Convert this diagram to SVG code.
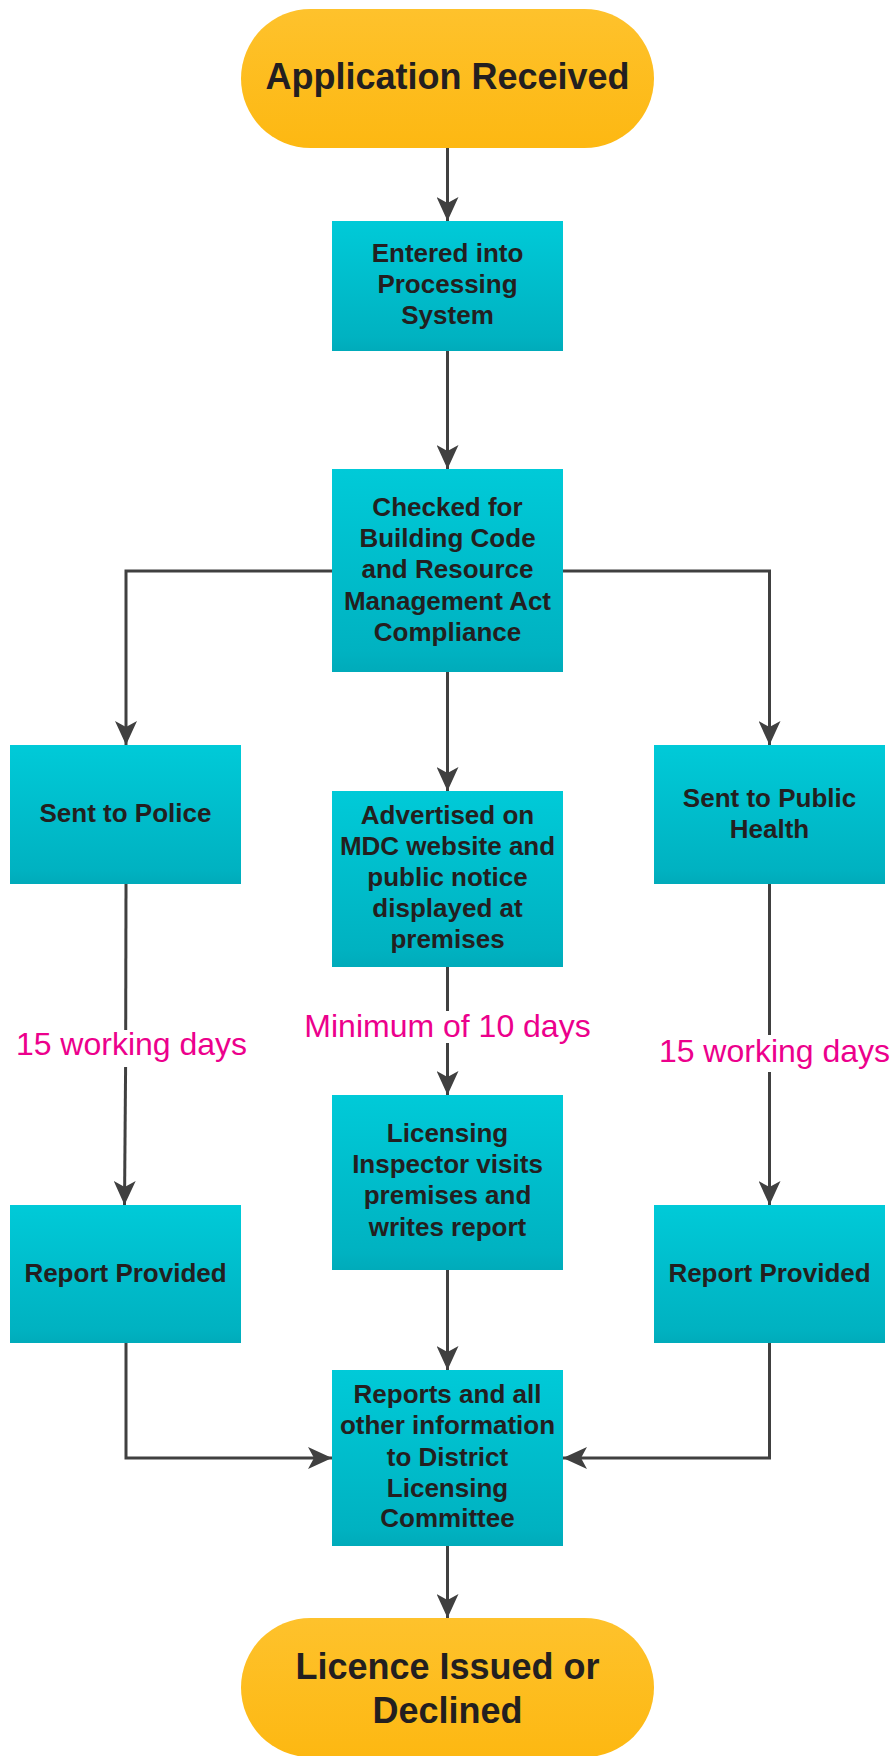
<svg xmlns="http://www.w3.org/2000/svg" width="895" height="1756" viewBox="0 0 895 1756">
  <defs>
    <linearGradient id="gTerm" x1="0" y1="0" x2="0" y2="1">
      <stop offset="0" stop-color="#FEC22C"/>
      <stop offset="1" stop-color="#FDB812"/>
    </linearGradient>
    <linearGradient id="gBox" x1="0" y1="0" x2="0" y2="1">
      <stop offset="0" stop-color="#00CAD8"/>
      <stop offset="0.9" stop-color="#00B2C1"/>
      <stop offset="1" stop-color="#00ABBA"/>
    </linearGradient>
    <marker id="arrow" markerUnits="userSpaceOnUse" markerWidth="24" markerHeight="22" refX="24" refY="11" orient="auto">
      <path d="M0,0 L24,11 L0,22 L6,11 Z" fill="#404040"/>
    </marker>
    <style>
      .term { fill: url(#gTerm); }
      .box { fill: url(#gBox); }
      .tt { font-family: "Liberation Sans", Arial, sans-serif; font-weight: bold; font-size: 36px; fill: #231F20; text-anchor: middle; }
      .bt { font-family: "Liberation Sans", Arial, sans-serif; font-weight: bold; font-size: 26px; fill: #231F20; text-anchor: middle; }
      .lbl { font-family: "Liberation Sans", Arial, sans-serif; font-size: 32px; fill: #EC008C; text-anchor: middle; }
      .edge { fill: none; stroke: #404040; stroke-width: 3; }
    </style>
  </defs>

  <!-- connectors -->
  <g id="connectors">
    <path class="edge" d="M447.5,148 V221" marker-end="url(#arrow)"/>
    <path class="edge" d="M447.5,351 V469" marker-end="url(#arrow)"/>
    <path class="edge" d="M332,571 H126 V745" marker-end="url(#arrow)"/>
    <path class="edge" d="M563,571 H769.5 V745" marker-end="url(#arrow)"/>
    <path class="edge" d="M447.5,672 V791" marker-end="url(#arrow)"/>
    <path class="edge" d="M126,884 L125.7,1030"/>
    <path class="edge" d="M125.6,1067 L124.5,1205" marker-end="url(#arrow)"/>
    <path class="edge" d="M769.5,884 V1035"/>
    <path class="edge" d="M769.5,1072 V1205" marker-end="url(#arrow)"/>
    <path class="edge" d="M447.5,967 V1011"/>
    <path class="edge" d="M447.5,1043 V1095" marker-end="url(#arrow)"/>
    <path class="edge" d="M447.5,1270 V1370" marker-end="url(#arrow)"/>
    <path class="edge" d="M126,1343 V1458 H332" marker-end="url(#arrow)"/>
    <path class="edge" d="M769.5,1343 V1458 H563" marker-end="url(#arrow)"/>
    <path class="edge" d="M447.5,1546 V1618" marker-end="url(#arrow)"/>
    <text class="lbl" x="131.5" y="1055">15 working days</text>
    <text class="lbl" x="447.5" y="1037">Minimum of 10 days</text>
    <text class="lbl" x="774.5" y="1062">15 working days</text>
  </g>

  <g id="start">
    <rect class="term" x="241" y="9" width="413" height="139" rx="69.5"/>
    <text class="tt" x="447.5" y="89">Application Received</text>
  </g>

  <g id="entered">
    <rect class="box" x="332" y="221" width="231" height="130"/>
    <text class="bt" x="447.5" y="262">Entered into</text>
    <text class="bt" x="447.5" y="293">Processing</text>
    <text class="bt" x="447.5" y="324">System</text>
  </g>

  <g id="checked">
    <rect class="box" x="332" y="469" width="231" height="203"/>
    <text class="bt" x="447.5" y="516">Checked for</text>
    <text class="bt" x="447.5" y="547">Building Code</text>
    <text class="bt" x="447.5" y="578">and Resource</text>
    <text class="bt" x="447.5" y="610">Management Act</text>
    <text class="bt" x="447.5" y="641">Compliance</text>
  </g>

  <g id="police">
    <rect class="box" x="10" y="745" width="231" height="139"/>
    <text class="bt" x="125.5" y="822">Sent to Police</text>
  </g>

  <g id="public-health">
    <rect class="box" x="654" y="745" width="231" height="139"/>
    <text class="bt" x="769.5" y="807">Sent to Public</text>
    <text class="bt" x="769.5" y="838">Health</text>
  </g>

  <g id="advertised">
    <rect class="box" x="332" y="791" width="231" height="176"/>
    <text class="bt" x="447.5" y="824">Advertised on</text>
    <text class="bt" x="447.5" y="855">MDC website and</text>
    <text class="bt" x="447.5" y="886">public notice</text>
    <text class="bt" x="447.5" y="917">displayed at</text>
    <text class="bt" x="447.5" y="948">premises</text>
  </g>

  <g id="inspector">
    <rect class="box" x="332" y="1095" width="231" height="175"/>
    <text class="bt" x="447.5" y="1142">Licensing</text>
    <text class="bt" x="447.5" y="1173">Inspector visits</text>
    <text class="bt" x="447.5" y="1204">premises and</text>
    <text class="bt" x="447.5" y="1236">writes report</text>
  </g>

  <g id="report-police">
    <rect class="box" x="10" y="1205" width="231" height="138"/>
    <text class="bt" x="125.5" y="1282">Report Provided</text>
  </g>

  <g id="report-health">
    <rect class="box" x="654" y="1205" width="231" height="138"/>
    <text class="bt" x="769.5" y="1282">Report Provided</text>
  </g>

  <g id="committee">
    <rect class="box" x="332" y="1370" width="231" height="176"/>
    <text class="bt" x="447.5" y="1403">Reports and all</text>
    <text class="bt" x="447.5" y="1434">other information</text>
    <text class="bt" x="447.5" y="1466">to District</text>
    <text class="bt" x="447.5" y="1497">Licensing</text>
    <text class="bt" x="447.5" y="1527">Committee</text>
  </g>

  <g id="end">
    <rect class="term" x="241" y="1618" width="413" height="139" rx="69.5"/>
    <text class="tt" x="447.5" y="1679">Licence Issued or</text>
    <text class="tt" x="447.5" y="1723">Declined</text>
  </g>
</svg>
